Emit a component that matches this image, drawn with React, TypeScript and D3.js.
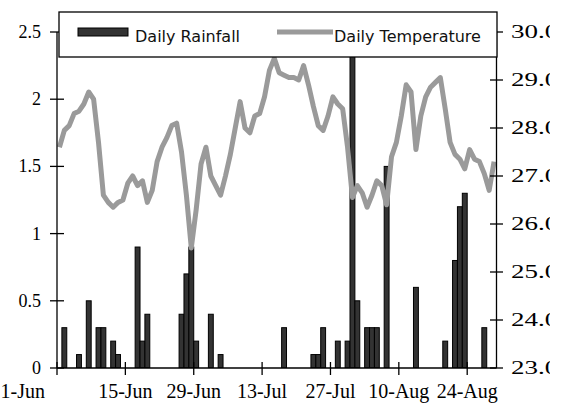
import * as d3 from "d3";

// one slot per day, 1 Jun .. 29 Aug
const startDate = new Date(2007, 5, 1);
const endDate = new Date(2007, 7, 30);
const days = d3.timeDay.range(startDate, endDate);

// daily rainfall (left axis)
const rainfall = [
  0, 0.3, 0, 0, 0.1, 0, 0.5, 0, 0.3, 0.3,
  0, 0.2, 0.1, 0, 0, 0, 0.9, 0.2, 0.4, 0,
  0, 0, 0, 0, 0, 0.4, 0.7, 0.9, 0.2, 0,
  0, 0.4, 0, 0.1, 0, 0, 0, 0, 0, 0,
  0, 0, 0, 0, 0, 0, 0.3, 0, 0, 0,
  0, 0, 0.1, 0.1, 0.3, 0, 0, 0.2, 0, 0.2,
  2.45, 0.5, 0, 0.3, 0.3, 0.3, 0, 1.5, 0, 0,
  0, 0, 0, 0.6, 0, 0, 0, 0, 0, 0.2,
  0, 0.8, 1.2, 1.3, 0, 0, 0, 0.3, 0, 0,
];

// daily temperature (right axis)
const temperature = [
  27.6, 27.95, 28.05, 28.3, 28.35, 28.5, 28.75, 28.6, 27.7, 26.6,
  26.45, 26.35, 26.45, 26.5, 26.85, 27.0, 26.8, 26.9, 26.45, 26.7,
  27.3, 27.6, 27.8, 28.05, 28.1, 27.5, 26.6, 25.5, 26.3, 27.25,
  27.6, 27.0, 26.8, 26.6, 27.0, 27.45, 28.0, 28.55, 28.0, 27.9,
  28.25, 28.3, 28.65, 29.2, 29.45, 29.15, 29.1, 29.05, 29.05, 29.0,
  29.3, 28.9, 28.45, 28.05, 27.95, 28.25, 28.65, 28.5, 28.4, 27.6,
  26.55, 26.8, 26.65, 26.35, 26.6, 26.9, 26.8, 26.4, 27.4, 27.7,
  28.25, 28.9, 28.75, 27.55, 28.25, 28.65, 28.85, 28.95, 29.05, 28.4,
  27.7, 27.45, 27.35, 27.15, 27.55, 27.35, 27.3, 27.05, 26.7, 27.3,
];

const rainTicks = [0, 0.5, 1, 1.5, 2, 2.5];
const tempTicks = [23, 24, 25, 26, 27, 28, 29, 30];
const dateTicks = d3.timeDay.range(startDate, endDate, 14);

type DayPoint = { date: Date; rain: number; temp: number };

const points: DayPoint[] = days.map((date, i) => ({
  date,
  rain: rainfall[i],
  temp: temperature[i],
}));

export default function App() {
  const width = 563;
  const height = 411;
  const plot = { left: 57, right: 496.5, top: 32, bottom: 368 };

  const x = d3.scaleTime().domain([startDate, endDate]).range([plot.left, plot.right]);
  const yRain = d3.scaleLinear().domain([0, 2.5]).range([plot.bottom, plot.top]);
  const yTemp = d3.scaleLinear().domain([23, 30]).range([plot.bottom, plot.top]);
  const fmt = d3.timeFormat("%-d-%b");
  const mid = (d: Date) => (x(d) + x(d3.timeDay.offset(d, 1))) / 2;

  const line = d3
    .line<DayPoint>()
    .x((d) => mid(d.date))
    .y((d) => yTemp(d.temp));
  const pathData = line(points);

  const serif = { fontFamily: "Liberation Serif, Times New Roman, DejaVu Serif, serif" };
  const sans = { fontFamily: "DejaVu Sans, Verdana, sans-serif" };

  return (
    <svg
      width={width}
      height={height}
      viewBox={`0 0 ${width} ${height}`}
      style={{ position: "absolute", left: 0, top: 0, background: "#fff" }}
    >
      <defs>
        <clipPath id="plotClip">
          <rect x={plot.left} y={plot.top} width={plot.right - plot.left} height={plot.bottom - plot.top} />
        </clipPath>
        <clipPath id="edgeClip">
          <rect x={0} y={0} width={550} height={height} />
        </clipPath>
      </defs>

      {/* rainfall bars */}
      <g clipPath="url(#plotClip)">
        {points
          .filter((d) => d.rain > 0)
          .map((d) => (
            <rect
              key={d.date.toISOString()}
              x={x(d.date)}
              y={yRain(d.rain)}
              width={x(d3.timeDay.offset(d.date, 1)) - x(d.date)}
              height={yRain(0) - yRain(d.rain)}
              fill="#333"
              stroke="#000"
              strokeWidth={1}
            />
          ))}
      </g>

      {/* temperature line */}
      {pathData && (
        <path d={pathData} fill="none" stroke="#9a9a9a" strokeWidth={5} strokeLinejoin="round" />
      )}

      {/* axes */}
      <g stroke="#000" strokeWidth={1.3}>
        <line x1={plot.left} x2={plot.left} y1={plot.top} y2={plot.bottom} />
        <line x1={plot.right} x2={plot.right} y1={plot.top} y2={plot.bottom} />
        <line x1={plot.left} x2={plot.right} y1={plot.bottom} y2={plot.bottom} />
        {rainTicks.map((t) => (
          <line key={`l${t}`} x1={plot.left - 7} x2={plot.left + 7} y1={yRain(t)} y2={yRain(t)} />
        ))}
        {tempTicks.map((t) => (
          <line key={`r${t}`} x1={plot.right - 6.5} x2={plot.right + 6.5} y1={yTemp(t)} y2={yTemp(t)} />
        ))}
        {dateTicks.map((d) => (
          <line key={`x${d.getTime()}`} x1={x(d)} x2={x(d)} y1={plot.bottom - 6} y2={plot.bottom + 7} />
        ))}
      </g>

      {rainTicks.map((t) => (
        <text key={`lt${t}`} x={41} y={yRain(t) + 6} textAnchor="end" style={serif} fontSize={18} fill="#000">
          {t}
        </text>
      ))}

      <g clipPath="url(#edgeClip)">
        {tempTicks.map((t) => (
          <text
            key={`rt${t}`}
            transform={`translate(511, ${yTemp(t) + 6}) scale(1.5, 1)`}
            style={serif}
            fontSize={18}
            fill="#000"
          >
            {t.toFixed(1)}
          </text>
        ))}
      </g>

      {dateTicks.map((d, i) => (
        <text
          key={`xt${d.getTime()}`}
          x={i === 0 ? x(d) - 12 : x(d)}
          y={398}
          textAnchor={i === 0 ? "end" : "middle"}
          style={serif}
          fontSize={20}
          fill="#000"
        >
          {fmt(d)}
        </text>
      ))}

      {/* legend */}
      <rect x={59} y={12} width={438} height={45} fill="#fff" stroke="#000" strokeWidth={1.3} />
      <rect x={78} y={28} width={50} height={8} fill="#333" stroke="#000" strokeWidth={1} />
      <text x={135} y={42} style={sans} fontSize={16} fill="#111">
        Daily Rainfall
      </text>
      <line x1={277} x2={333} y1={32} y2={32} stroke="#9a9a9a" strokeWidth={5} />
      <text x={334} y={42} style={sans} fontSize={16} fill="#111">
        Daily Temperature
      </text>
    </svg>
  );
}
